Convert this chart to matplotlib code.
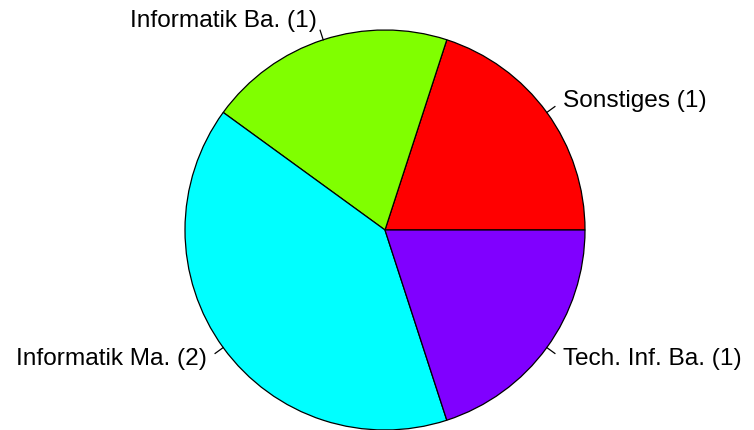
import numpy as np
import matplotlib
matplotlib.use("Agg")
import matplotlib.pyplot as plt

# ------ données ------
labels = ["Sonstiges (1)", "Informatik Ba. (1)", "Informatik Ma. (2)", "Tech. Inf. Ba. (1)"]
values = [1, 1, 2, 1]
colors = ["#FF0000", "#80FF00", "#00FFFF", "#8000FF"]

plt.rcParams['font.family'] = ['Liberation Sans', 'DejaVu Sans']

fig = plt.figure(figsize=(7.54, 4.30), dpi=100)
ax = fig.add_axes([0, 0, 1, 1])

ax.pie(values, colors=colors, startangle=0, counterclock=True, radius=1.0,
       wedgeprops=dict(edgecolor="black", linewidth=0.9))

# labels à la R : petit trait puis texte
frac = np.cumsum([0] + values) / float(sum(values))
for i in range(len(values)):
    a = 2 * np.pi * (frac[i] + frac[i + 1]) / 2
    c, s = np.cos(a), np.sin(a)
    ax.plot([c, 1.05 * c], [s, 1.05 * s], color="black", lw=0.9)
    ha = "left" if c > 0 else "right"
    ax.text(1.1 * c, 1.1 * s, labels[i], ha=ha, va="center", fontsize=17.6)

ax.set_aspect("equal")
ax.set_xlim(-385 / 200.0, (754 - 385) / 200.0)
ax.set_ylim(-200 / 200.0, 230 / 200.0)
ax.axis("off")

fig.savefig("out.png", dpi=100)
